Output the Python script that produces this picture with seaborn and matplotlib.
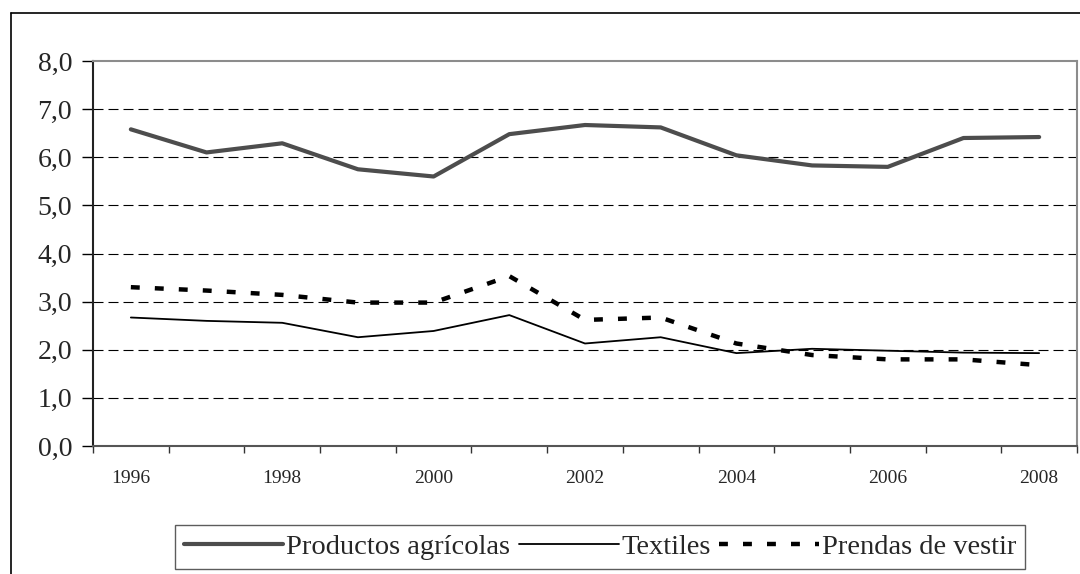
import numpy as np
import pandas as pd
import seaborn as sns
import matplotlib.pyplot as plt
from matplotlib.lines import Line2D

# values
years = [1996, 1997, 1998, 1999, 2000, 2001, 2002, 2003, 2004, 2005, 2006, 2007, 2008]
agricolas = [6.58, 6.10, 6.29, 5.75, 5.60, 6.48, 6.67, 6.62, 6.04, 5.83, 5.80, 6.40, 6.42]
textiles = [2.67, 2.60, 2.56, 2.26, 2.39, 2.72, 2.13, 2.26, 1.93, 2.02, 1.98, 1.94, 1.93]
prendas = [3.30, 3.23, 3.14, 2.98, 2.98, 3.53, 2.62, 2.67, 2.13, 1.89, 1.80, 1.80, 1.68]
series_names = ['Productos agrícolas', 'Textiles', 'Prendas de vestir']
y_ticks = [0, 1, 2, 3, 4, 5, 6, 7, 8]

sns.set_style('white')
plt.rcParams['font.family'] = ['Liberation Serif', 'DejaVu Serif']

pos = np.arange(len(years))
df = pd.DataFrame({'pos': pos, 'agr': agricolas, 'tex': textiles, 'pre': prendas})

fig = plt.figure(figsize=(10.8, 5.74), dpi=100)
ax = fig.add_axes([93 / 1080, 1 - 446 / 574, (1077 - 93) / 1080, (446 - 61) / 574])

sns.lineplot(data=df, x='pos', y='agr', ax=ax, color='#4d4d4d', linewidth=3.0,
             label=series_names[0])
sns.lineplot(data=df, x='pos', y='tex', ax=ax, color='black', linewidth=1.3,
             label=series_names[1])
sns.lineplot(data=df, x='pos', y='pre', ax=ax, color='black', linewidth=3.2,
             label=series_names[2])
ax.lines[2].set_linestyle((0, (2.0, 3.4)))

# horizontal dashed grid
for v in y_ticks[1:-1]:
    ax.axhline(v, color='black', linewidth=0.8, linestyle=(0, (9, 4.5)), zorder=0)

ax.set_ylim(0, 8)
ax.set_xlim(-0.5, len(years) - 0.5)
ax.set_yticks(y_ticks)
ax.set_yticklabels([f'{v:.1f}'.replace('.', ',') for v in y_ticks], fontsize=20)
ax.set_xticks(pos[::2])
ax.set_xticklabels([str(y) for y in years[::2]], fontsize=14)
ax.set_xticks(np.arange(-0.5, len(years)), minor=True)
ax.tick_params(axis='x', which='major', length=0, pad=17)
ax.tick_params(axis='x', which='minor', length=5, width=1, color='#333333', direction='out', bottom=True)
ax.tick_params(axis='y', length=8, width=1, color='black', direction='out', left=True, pad=7)
ax.set_xlabel('')
ax.set_ylabel('')

for side in ['top', 'right']:
    ax.spines[side].set_color('#8c8c8c')
    ax.spines[side].set_linewidth(1.5)
ax.spines['left'].set_color('#222222')
ax.spines['left'].set_linewidth(1.5)
ax.spines['bottom'].set_color('#555555')
ax.spines['bottom'].set_linewidth(1.5)

leg = ax.legend(loc='center', bbox_to_anchor=(600 / 1080, 1 - 547 / 574),
                bbox_transform=fig.transFigure, ncol=3, fontsize=20.5,
                frameon=True, fancybox=False, handlelength=3.5, handletextpad=0.1,
                columnspacing=0.3, borderpad=0.3, borderaxespad=0)
leg.get_frame().set_edgecolor('#333333')
leg.get_frame().set_linewidth(1.0)

# outer chart border (left and top visible)
fig.add_artist(Line2D([11 / 1080, 11 / 1080], [0, 1 - 13 / 574], color='black', linewidth=1.2,
                      transform=fig.transFigure))
fig.add_artist(Line2D([11 / 1080, 1.0], [1 - 13 / 574, 1 - 13 / 574], color='black', linewidth=1.2,
                      transform=fig.transFigure))

plt.savefig('out.png', dpi=100)
